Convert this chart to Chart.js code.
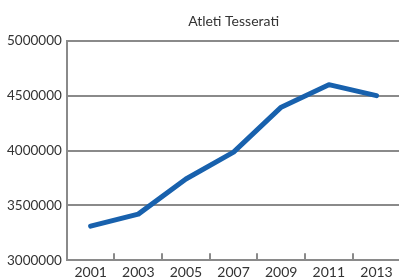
<!DOCTYPE html>
<html>
<head>
<meta charset="utf-8">
<script src="https://cdn.jsdelivr.net/npm/chart.js@4"></script>
<style>
  html, body { margin: 0; padding: 0; background: #fff; overflow: hidden; }
  canvas { display: block; }
</style>
</head>
<body>
<canvas id="chart1" width="404" height="292"></canvas>
<script>
// data
var years = ["2001", "2003", "2005", "2007", "2009", "2011", "2013"];
var athletes = [3310000, 3420000, 3740000, 3985000, 4395000, 4600000, 4500000];
var yTicks = [3000000, 3500000, 4000000, 4500000, 5000000];

var grey = "#8a8a8a";
var ink = "#333333";
Chart.defaults.font.family = "Lato, 'DejaVu Sans', sans-serif";
Chart.defaults.font.size = 14;
Chart.defaults.color = ink;

new Chart(document.getElementById("chart1"), {
  type: "line",
  data: {
    labels: years,
    datasets: [{
      label: "Atleti Tesserati",
      data: athletes,
      xAxisID: "x",
      yAxisID: "y",
      borderColor: "#1861ad",
      borderWidth: 5,
      borderCapStyle: "round",
      borderJoinStyle: "round",
      pointRadius: 0,
      fill: false,
      tension: 0
    }]
  },
  options: {
    animation: false,
    responsive: false,
    layout: { padding: { left: 2, right: 0, top: 9, bottom: 0 } },
    plugins: { legend: { display: false }, tooltip: { enabled: false } },
    scales: {
      x: {
        offset: true,
        grid: { offset: true, drawOnChartArea: false, drawTicks: true, tickLength: -7, color: grey, lineWidth: 2 },
        border: { color: grey, width: 2 },
        ticks: { autoSkip: false, maxRotation: 0, padding: 11 }
      },
      top: {
        type: "category",
        position: "top",
        offset: true,
        labels: years,
        ticks: { display: false },
        grid: { display: false },
        border: { display: false },
        title: { display: true, text: "Atleti Tesserati", color: ink, font: { size: 14 }, padding: { top: 4, bottom: 3 } }
      },
      y: {
        min: yTicks[0],
        max: yTicks[yTicks.length - 1],
        afterBuildTicks: function (axis) {
          axis.ticks = yTicks.map(function (v) { return { value: v }; });
        },
        grid: { color: grey, lineWidth: 2, drawTicks: false },
        border: { color: grey, width: 2 },
        ticks: { padding: 5, font: { size: 13.5 }, callback: function (v) { return String(v); } }
      }
    }
  }
});
</script>
</body>
</html>
